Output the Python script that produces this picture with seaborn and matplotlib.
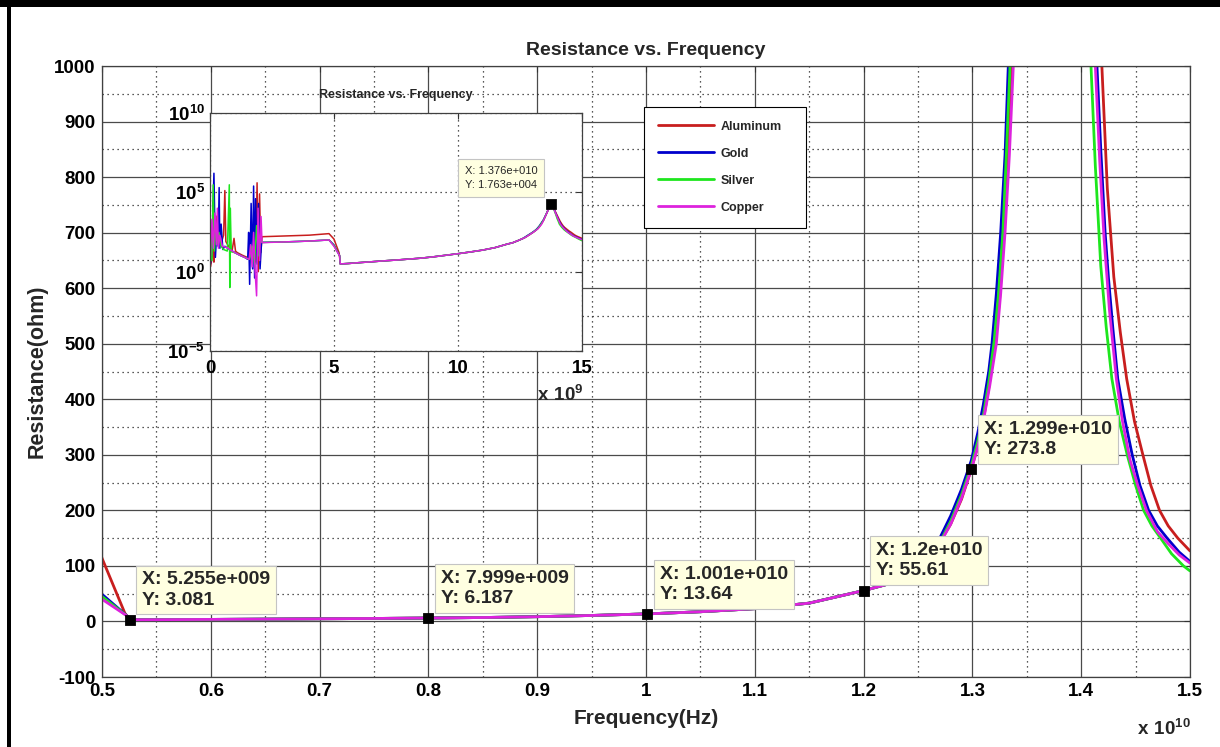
"""
Resistance vs. Frequency: MATLAB-style figure with a log-scale inset
"""
import numpy as np
import pandas as pd
import matplotlib
matplotlib.use('Agg')
import matplotlib.pyplot as plt
import matplotlib.ticker as mticker
from matplotlib.patches import Rectangle
import seaborn as sns

# ==================== data (frequency in GHz, resistance in ohm) ====================
materials = ['Aluminum', 'Gold', 'Silver', 'Copper']
colors = ['#c81e1e', '#0000cc', '#1ee61e', '#dd22dd']

# low band (noisy spikes), plateau and drop, one set per material
al_low_f = [0.02, 0.10, 0.13, 0.16, 0.20, 0.24, 0.28, 0.34, 0.45, 0.55, 0.60, 0.64, 0.75, 0.90,
            0.97, 1.03, 1.10, 1.30, 1.50, 1.65, 1.75, 1.85, 1.90, 1.95, 2.00, 2.05, 2.10, 3.00,
            4.00, 4.80, 5.00, 5.21]
al_low_r = [2.0, 10, 2.5e4, 4.0, 1.6e3, 100, 3.2e3, 160, 63, 200, 1.3e5, 80, 40, 25,
            126, 20, 16, 11, 8, 6.3, 32, 4, 4e5, 1, 8e4, 16, 160, 178,
            200, 250, 114, 15]

au_low_f = [0.02, 0.08, 0.16, 0.22, 0.28, 0.33, 0.37, 0.40, 0.45, 0.52, 0.60, 0.80, 1.00, 1.20,
            1.40, 1.52, 1.56, 1.60, 1.66, 1.72, 1.76, 1.80, 1.84, 1.90, 1.96, 2.02, 2.08, 3.00,
            4.00, 4.80, 5.00, 5.23]
au_low_r = [3, 20, 1.6e6, 8, 600, 40, 2e5, 30, 1e3, 25, 40, 25, 16, 11,
            8, 6, 300, 0.16, 2e4, 1.5, 2.5e5, 0.4, 4e4, 3, 2e4, 1.5, 70, 75,
            85, 100, 49, 10]

ag_low_f = [0.02, 0.08, 0.13, 0.18, 0.24, 0.30, 0.36, 0.45, 0.55, 0.70, 0.78, 0.80, 0.82, 0.86,
            1.00, 1.20, 1.40, 1.60, 1.70, 1.80, 1.88, 1.95, 2.02, 2.08, 3.00, 4.00, 4.80, 5.00,
            5.23]
ag_low_r = [100, 5, 3e5, 20, 1e3, 60, 300, 40, 25, 20, 3e5, 0.1, 1e4, 18,
            16, 11, 8, 6, 40, 3, 800, 10, 200, 70, 75, 85, 100, 45,
            10]

cu_low_f = [0.02, 0.08, 0.14, 0.20, 0.26, 0.30, 0.34, 0.40, 0.50, 0.65, 0.80, 1.00, 1.20, 1.40,
            1.58, 1.64, 1.70, 1.76, 1.82, 1.88, 1.94, 2.00, 2.06, 2.10, 3.00, 4.00, 4.80, 5.00,
            5.23]
cu_low_r = [10, 2e3, 30, 5e3, 50, 1e4, 30, 200, 40, 35, 25, 16, 11, 8,
            6, 50, 2, 300, 1, 0.03, 1e4, 5, 3e3, 68, 75, 85, 100, 40,
            10]

# shared middle part, all four curves overlap here
mid_f = [5.255, 5.6, 6.0, 6.5, 7.0, 7.5, 7.999, 8.5, 9.0, 9.5, 10.01, 10.5, 11.0, 11.5, 12.0,
         12.2, 12.4, 12.6]
mid_r = [3.081, 3.3, 3.7, 4.2, 4.8, 5.4, 6.187, 7.1, 8.6, 10.8, 13.64, 17.5, 23.0, 33.0, 55.61,
         66, 88, 120]

# resonance peak, one set per material
al_pk_f = [12.7, 12.8, 12.9, 12.99, 13.05, 13.1, 13.15, 13.21, 13.25, 13.29, 13.33, 13.36,
           13.45, 13.55, 13.65, 13.76, 13.85, 13.95, 14.05, 14.12, 14.19, 14.24, 14.30, 14.36,
           14.418, 14.49, 14.567, 14.64, 14.72, 14.8, 14.888, 15.0]
al_pk_r = [142, 175, 220, 274, 315, 362, 420, 500, 580, 700, 860, 1000,
           1700, 3800, 8500, 17000, 11500, 5200, 2500, 1500, 1000, 780, 620, 520,
           437, 360, 300, 245, 200, 172, 150, 127]

au_pk_f = [12.7, 12.8, 12.9, 12.99, 13.05, 13.1, 13.15, 13.18, 13.22, 13.26, 13.30, 13.33,
           13.45, 13.55, 13.65, 13.76, 13.85, 13.95, 14.05, 14.1, 14.145, 14.18, 14.22, 14.25,
           14.29, 14.336, 14.4, 14.469, 14.54, 14.62, 14.7, 14.79, 14.9, 15.0]
au_pk_r = [150, 190, 238, 290, 340, 390, 450, 500, 590, 700, 840, 1000,
           1900, 4000, 9000, 17600, 11000, 4500, 2000, 1400, 1000, 850, 700, 620,
           530, 437, 365, 300, 245, 200, 172, 150, 125, 108]

ag_pk_f = [12.7, 12.8, 12.9, 12.99, 13.05, 13.1, 13.15, 13.2, 13.24, 13.28, 13.31, 13.346,
           13.45, 13.55, 13.65, 13.76, 13.85, 13.95, 14.0, 14.05, 14.09, 14.13, 14.18, 14.23,
           14.282, 14.35, 14.423, 14.5, 14.574, 14.65, 14.73, 14.83, 14.94, 15.0]
ag_pk_r = [142, 180, 228, 280, 325, 370, 430, 505, 590, 700, 830, 1000,
           1800, 3900, 8800, 17400, 10000, 3800, 2200, 1450, 1000, 820, 640, 530,
           437, 360, 300, 245, 200, 172, 150, 122, 100, 91]

cu_pk_f = [12.7, 12.8, 12.9, 12.99, 13.05, 13.1, 13.16, 13.22, 13.26, 13.30, 13.34, 13.376,
           13.45, 13.55, 13.65, 13.76, 13.85, 13.95, 14.05, 14.09, 14.13, 14.17, 14.21, 14.26,
           14.323, 14.38, 14.45, 14.52, 14.6, 14.7, 14.8, 14.9, 15.0]
cu_pk_r = [140, 175, 222, 273.8, 315, 360, 425, 500, 590, 700, 840, 1000,
           1700, 3800, 8500, 17630, 10500, 4300, 1900, 1380, 1000, 830, 690, 560,
           437, 360, 290, 245, 200, 162, 140, 120, 105]

# data tips
tip_f = [5.255, 7.999, 10.01, 12.0, 12.99]
tip_r = [3.081, 6.187, 13.64, 55.61, 273.8]
tip_labels = ['X: 5.255e+009\nY: 3.081', 'X: 7.999e+009\nY: 6.187', 'X: 1.001e+010\nY: 13.64',
              'X: 1.2e+010\nY: 55.61', 'X: 1.299e+010\nY: 273.8']
inset_tip_f = [13.76]
inset_tip_r = [1.763e4]
inset_tip_label = 'X: 1.376e+010\nY: 1.763e+004'

# ==================== build long table ====================
parts = [(al_low_f, al_low_r, al_pk_f, al_pk_r), (au_low_f, au_low_r, au_pk_f, au_pk_r),
         (ag_low_f, ag_low_r, ag_pk_f, ag_pk_r), (cu_low_f, cu_low_r, cu_pk_f, cu_pk_r)]
frames = []
for name, (lf, lr, pf, pr) in zip(materials, parts):
    frames.append(pd.DataFrame({'freq_ghz': lf + mid_f + pf,
                                'res': lr + mid_r + pr,
                                'material': name}))
df = pd.concat(frames, ignore_index=True)
df['freq_1e10'] = df['freq_ghz'] / 10.0
palette = dict(zip(materials, colors))

# ==================== style ====================
sns.set_style('white')
plt.rcParams['font.family'] = ['Liberation Sans', 'DejaVu Sans']
plt.rcParams['font.weight'] = 'bold'
plt.rcParams['axes.unicode_minus'] = False
plt.rcParams['mathtext.fontset'] = 'custom'
plt.rcParams['mathtext.bf'] = 'Liberation Sans:bold'
plt.rcParams['mathtext.rm'] = 'Liberation Sans'

fig = plt.figure(figsize=(12.2, 7.47), dpi=100)
ax = fig.add_axes([0.0836, 0.0937, 0.8918, 0.8179])
axin = fig.add_axes([0.1721, 0.5301, 0.3049, 0.3186])

# frame lines of the original screenshot
fig.add_artist(Rectangle((0, 1 - 7 / 747), 1, 7 / 747, transform=fig.transFigure,
                         color='black', lw=0))
fig.add_artist(Rectangle((7 / 1220, 0), 4 / 1220, 1, transform=fig.transFigure,
                         color='black', lw=0))

# ==================== main axes ====================
sns.lineplot(data=df, x='freq_1e10', y='res', hue='material', hue_order=materials,
             palette=palette, estimator=None, sort=False, lw=2, ax=ax, legend=False)
ax.set_xlim(0.5, 1.5)
ax.set_ylim(-100, 1000)
ax.xaxis.set_major_locator(mticker.MultipleLocator(0.1))
ax.xaxis.set_minor_locator(mticker.MultipleLocator(0.05))
ax.yaxis.set_major_locator(mticker.MultipleLocator(100))
ax.yaxis.set_minor_locator(mticker.MultipleLocator(50))
ax.xaxis.set_major_formatter(mticker.FuncFormatter(lambda v, p: '%g' % round(v, 3)))
ax.grid(which='major', color='#4a4a4a', lw=0.9, ls='-')
ax.grid(which='minor', color='#222222', lw=0.9, ls=(0, (1, 3)))
ax.set_axisbelow(True)
ax.tick_params(which='major', direction='in', length=4, width=0.8, top=True, right=True,
               labelsize=13.5, colors='#333333', labelcolor='black')
ax.tick_params(axis='x', pad=4)
ax.tick_params(axis='y', pad=4.5)
ax.tick_params(which='minor', length=0)
for s in ax.spines.values():
    s.set_color('#404040')
    s.set_linewidth(0.9)
ax.set_title('Resistance vs. Frequency', fontsize=14, fontweight='bold', pad=8)
ax.set_xlabel('Frequency(Hz)', fontsize=15, fontweight='bold', labelpad=7)
ax.set_ylabel('Resistance(ohm)', fontsize=15.5, fontweight='bold', labelpad=5)
fig.text(1137 / 1220, 1 - 739 / 747, r'$\mathbf{x\ 10^{10}}$', fontsize=13.5,
         ha='left', va='bottom')

# legend
leg = ax.legend(ax.get_lines()[:4], materials, loc='upper left',
                bbox_to_anchor=(644 / 1220, 1 - 107 / 747, (806 - 644) / 1220, 0),
                bbox_transform=fig.transFigure, mode='expand', borderaxespad=0,
                fancybox=False, framealpha=1, edgecolor='black', borderpad=1.1,
                labelspacing=1.2, handlelength=4.5, handletextpad=0.5,
                prop={'weight': 'bold', 'size': 9})
leg.get_frame().set_linewidth(0.8)
leg.set_zorder(10)

# data tips
sns.scatterplot(x=tip_f, y=np.array(tip_r), ax=ax, marker='s', color='black', s=55,
                edgecolor='black', zorder=6, legend=False)
ax.collections[-1].set_offsets(np.column_stack([np.array(tip_f) / 10.0, tip_r]))
for f, r, lab in zip(tip_f, tip_r, tip_labels):
    ax.annotate(lab, (f / 10.0, r), xytext=(9, 8), textcoords='offset points',
                ha='left', va='bottom', fontsize=14, fontweight='bold', linespacing=1.25,
                bbox=dict(boxstyle='square,pad=0.3', fc='#ffffe1', ec='#c4c4c4', lw=0.8),
                zorder=7)

# ==================== inset (log scale) ====================
sns.lineplot(data=df, x='freq_ghz', y='res', hue='material', hue_order=materials,
             palette=palette, estimator=None, sort=False, lw=1.1, ax=axin, legend=False)
axin.set_yscale('log')
axin.set_xlim(0, 15)
axin.set_ylim(1e-5, 1e10)
axin.set_xticks([0, 5, 10, 15])
axin.set_yticks([1e-5, 1e0, 1e5, 1e10])
axin.set_yticklabels([r'$\mathbf{10^{-5}}$', r'$\mathbf{10^{0}}$', r'$\mathbf{10^{5}}$',
                      r'$\mathbf{10^{10}}$'])
axin.yaxis.set_minor_locator(mticker.NullLocator())
axin.grid(which='major', color='#222222', lw=0.9, ls=(0, (1, 3)))
axin.set_axisbelow(True)
axin.tick_params(which='major', direction='in', length=4, width=0.8, top=True, right=True,
                 labelsize=13.5, colors='#333333', labelcolor='black')
axin.tick_params(axis='x', pad=6.5)
axin.tick_params(axis='y', pad=3.5)
for s in axin.spines.values():
    s.set_color('#404040')
    s.set_linewidth(0.9)
axin.set_xlabel('')
axin.set_ylabel('')
axin.set_title('Resistance vs. Frequency', fontsize=9, fontweight='bold', pad=11)
fig.text(537 / 1220, 1 - 405 / 747, r'$\mathbf{x\ 10^{9}}$', fontsize=13.5,
         ha='left', va='bottom')

sns.scatterplot(x=inset_tip_f, y=inset_tip_r, ax=axin, marker='s', color='black', s=45,
                edgecolor='black', zorder=6, legend=False)
axin.annotate(inset_tip_label, (inset_tip_f[0], inset_tip_r[0]), xytext=(-10, 10),
              textcoords='offset points', ha='right', va='bottom', fontsize=8,
              fontweight='normal', linespacing=1.6,
              bbox=dict(boxstyle='square,pad=0.6', fc='#ffffe1', ec='#c4c4c4', lw=0.8),
              zorder=7)

fig.savefig('out.png', dpi=100)
